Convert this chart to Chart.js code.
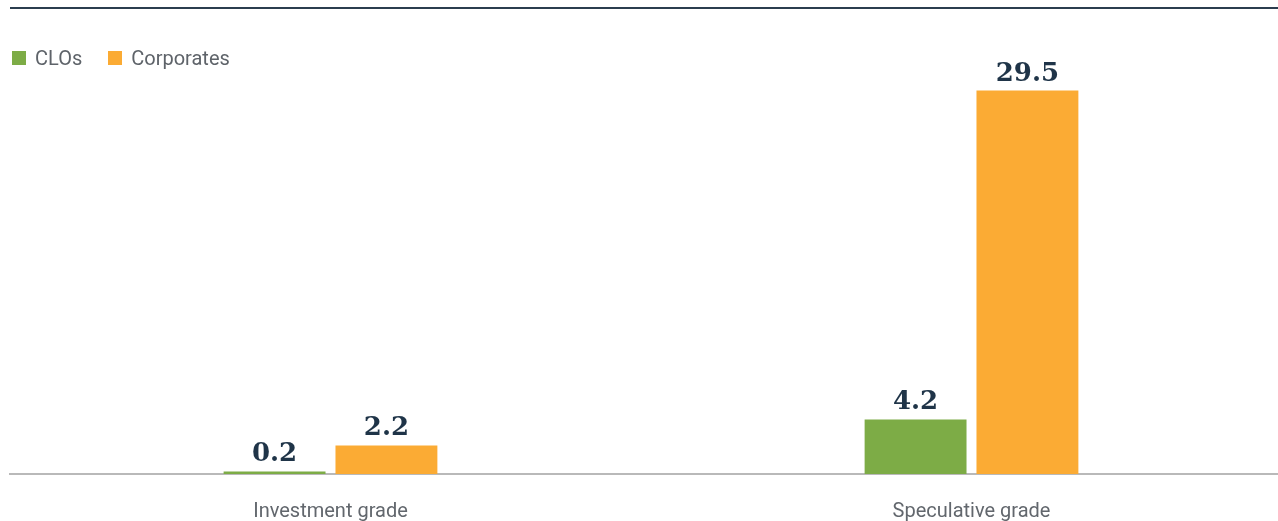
<!DOCTYPE html>
<html>
<head>
<meta charset="utf-8">
<script src="https://cdn.jsdelivr.net/npm/chart.js@4/dist/chart.umd.min.js"></script>
<style>
  html, body { margin: 0; padding: 0; background: #fff; overflow: hidden; }
  #wrap { position: relative; width: 1278px; height: 521px; overflow: hidden; }
  #topRule { position: absolute; left: 10px; right: 0; top: 7px; height: 2px; background: #2b3d4f; }
  #legend { position: absolute; left: 12px; top: 46px; font: 20px Roboto, sans-serif; color: #5e6369; display: flex; align-items: center; }
  .item { display: flex; align-items: center; margin-right: 26px; }
  .swatch { width: 14px; height: 14px; margin-right: 9px; }
  #chart { position: absolute; left: 0; top: 0; }
</style>
</head>
<body>
<div id="wrap">
  <div id="topRule"></div>
  <canvas id="chart" width="1292" height="521"></canvas>
  <div id="legend"></div>
</div>
<script>
// Data
const categories = ['Investment grade', 'Speculative grade'];
const seriesNames = ['CLOs', 'Corporates'];
const cloValues = [0.2, 4.2];
const corpValues = [2.2, 29.5];
const seriesColors = ['#7dac46', '#fbab34'];

// --- LEGEND ---
const legendEl = document.getElementById('legend');
seriesNames.forEach((name, i) => {
    const item = document.createElement('div');
    item.className = 'item';
    item.innerHTML = `<span class="swatch" style="background:${seriesColors[i]}"></span><span>${name}</span>`;
    legendEl.appendChild(item);
});

// value labels above bars
const valueLabels = {
    id: 'valueLabels',
    afterDatasetsDraw(chart) {
        const ctx = chart.ctx;
        ctx.save();
        ctx.font = 'bold 26px "DejaVu Serif", serif';
        ctx.fillStyle = '#1f3448';
        ctx.textAlign = 'center';
        ctx.textBaseline = 'alphabetic';
        chart.data.datasets.forEach((ds, di) => {
            chart.getDatasetMeta(di).data.forEach((bar, i) => {
                ctx.fillText(ds.data[i].toFixed(1), bar.x, bar.y - 10);
            });
        });
        ctx.restore();
    }
};

new Chart(document.getElementById('chart').getContext('2d'), {
    type: 'bar',
    data: {
        labels: categories,
        datasets: [
            { label: seriesNames[0], data: cloValues, backgroundColor: seriesColors[0] },
            { label: seriesNames[1], data: corpValues, backgroundColor: seriesColors[1] }
        ]
    },
    options: {
        responsive: false,
        animation: false,
        categoryPercentage: 0.349,
        barPercentage: 0.911,
        layout: { padding: { left: 10, right: 0, top: 84, bottom: -29 } },
        plugins: { legend: { display: false }, tooltip: { enabled: false } },
        scales: {
            x: {
                grid: { display: false, drawTicks: false },
                border: { color: '#b9b9b9', width: 2 },
                ticks: { color: '#62676d', font: { family: 'Roboto', size: 20 }, padding: 26, maxRotation: 0, minRotation: 0, autoSkip: false }
            },
            y: { display: false, min: 0, max: 30 }
        }
    },
    plugins: [valueLabels]
});
</script>
</body>
</html>
